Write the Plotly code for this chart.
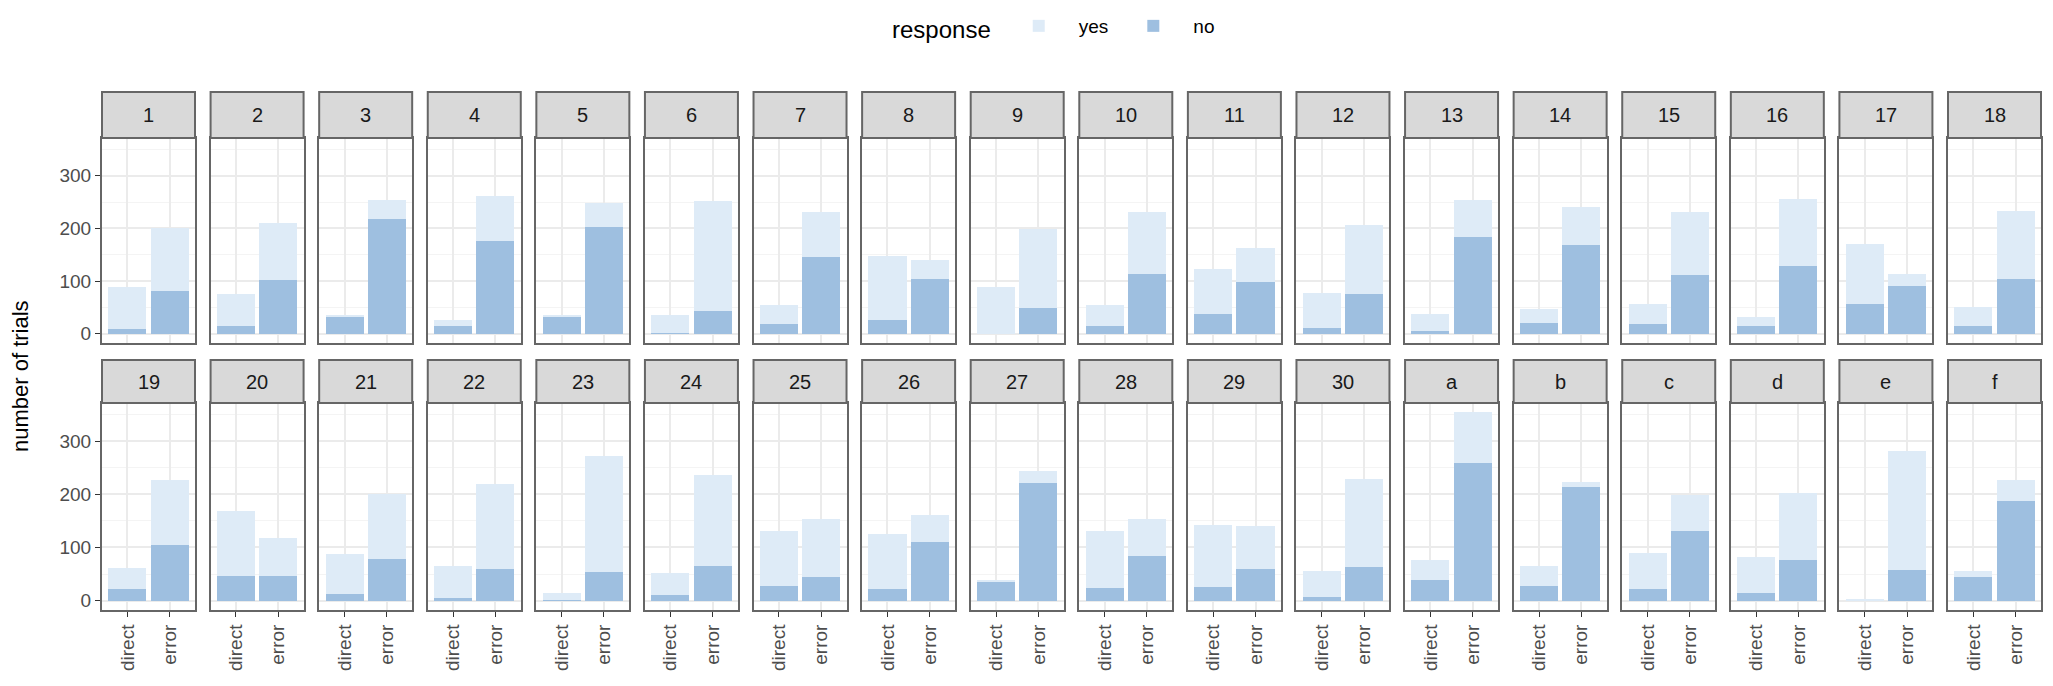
import plotly.graph_objects as go
from plotly.subplots import make_subplots

# facets (subjects) and the two conditions on the x axis
subjects = [str(i) for i in range(1, 31)] + ["a", "b", "c", "d", "e", "f"]
conditions = ["direct", "error"]

# number of trials answered "no" / "yes"
direct_no = [8, 14, 33, 14, 31, 2, 18, 26, 0, 15, 38, 11, 6, 20, 19, 14, 56, 14,
             22, 47, 13, 4, 1, 11, 27, 22, 36, 23, 25, 6, 39, 28, 22, 15, 1, 44]
direct_yes = [81, 61, 3, 12, 4, 33, 36, 121, 89, 39, 84, 67, 32, 27, 37, 17, 114, 37,
              39, 122, 74, 61, 14, 41, 104, 103, 3, 107, 117, 50, 37, 37, 67, 67, 2, 11]
error_no = [81, 102, 218, 177, 202, 43, 145, 104, 49, 113, 98, 75, 184, 168, 111, 129, 91, 103,
            104, 47, 78, 59, 54, 65, 44, 111, 221, 84, 60, 63, 258, 213, 131, 77, 57, 188]
error_yes = [119, 109, 35, 85, 47, 209, 86, 36, 149, 118, 65, 132, 69, 73, 120, 126, 23, 130,
             122, 71, 123, 161, 218, 172, 109, 50, 23, 69, 81, 166, 96, 10, 68, 125, 225, 38]

col_yes = "#deebf7"
col_no = "#9ebfe0"

ncol = 18
# the page body has an 8px margin, so the figure is a bit smaller than the window
OFF = 8
W, H = 2053 - 2 * OFF, 686 - 2 * OFF
ml, mr, mt, mb = 102 - OFF, 4, 92 - OFF, H - (610 - OFF)
pw = W - ml - mr
ph = H - mt - mb


def ypix(v):
    # window pixel row -> paper coordinate
    return (H - mb - (v - OFF)) / ph


fig = make_subplots(rows=2, cols=ncol)

totals = [a + b for a, b in zip(direct_no, direct_yes)] + [a + b for a, b in zip(error_no, error_yes)]
ymax = max(totals)

panel_w = 93 / pw
pitch = (1 - panel_w) / (ncol - 1)
row_dom = {1: [ypix(343), ypix(138)], 2: [0, ypix(403)]}
strip_top = {1: 1.0, 2: ypix(360)}

for k, s in enumerate(subjects):
    r = k // ncol + 1
    c = k % ncol + 1
    first = k == 0
    fig.add_trace(go.Bar(x=conditions, y=[direct_no[k], error_no[k]], name="no",
                         marker_color=col_no, marker_line_width=0, width=0.9,
                         legendgroup="no", legendrank=2, showlegend=first,
                         hovertemplate=s + " %{x}<br>no: %{y}<extra></extra>"),
                  row=r, col=c)
    fig.add_trace(go.Bar(x=conditions, y=[direct_yes[k], error_yes[k]], name="yes",
                         marker_color=col_yes, marker_line_width=0, width=0.9,
                         legendgroup="yes", legendrank=1, showlegend=first,
                         hovertemplate=s + " %{x}<br>yes: %{y}<extra></extra>"),
                  row=r, col=c)

    n = k + 1
    xname = "xaxis" if n == 1 else f"xaxis{n}"
    yname = "yaxis" if n == 1 else f"yaxis{n}"
    x0 = (c - 1) * pitch
    x1 = x0 + panel_w
    fig.layout[xname].update(
        domain=[x0, x1], range=[-0.6, 1.6], type="category", automargin=False,
        showgrid=True, gridcolor="#ebebeb", gridwidth=1.5,
        showline=True, mirror=True, linecolor="#666666", linewidth=2,
        ticks="outside" if r == 2 else "", ticklen=5, tickcolor="#333333",
        showticklabels=(r == 2), tickangle=-90,
        tickfont=dict(size=19, color="#4d4d4d"))
    fig.layout[yname].update(
        domain=row_dom[r], range=[-0.05 * ymax, 1.05 * ymax], automargin=False,
        dtick=100, tick0=0, showgrid=True, gridcolor="#ebebeb", gridwidth=1.5,
        minor=dict(dtick=50, showgrid=True, gridcolor="#f4f4f4", gridwidth=1),
        zeroline=False, showline=True, mirror=True, linecolor="#666666", linewidth=2,
        ticks="outside" if c == 1 else "", ticklen=5, tickcolor="#333333",
        showticklabels=(c == 1), tickfont=dict(size=19, color="#4d4d4d"))

    # facet strip
    fig.add_shape(type="rect", xref="paper", yref="paper",
                  x0=x0, x1=x1, y0=row_dom[r][1], y1=strip_top[r],
                  fillcolor="#d9d9d9", line=dict(color="#666666", width=2))
    fig.add_annotation(text=s, xref="paper", yref="paper", showarrow=False,
                       x=(x0 + x1) / 2, y=(row_dom[r][1] + strip_top[r]) / 2,
                       xanchor="center", yanchor="middle",
                       font=dict(size=20, color="#1a1a1a"))

fig.add_annotation(text="number of trials", xref="paper", yref="paper", showarrow=False,
                   x=(20 - OFF - ml) / pw, xanchor="center", y=ypix(376), yanchor="middle",
                   textangle=-90, font=dict(size=22, color="black"))

fig.update_layout(
    width=W, height=H,
    margin=dict(l=ml, r=mr, t=mt, b=mb, autoexpand=False),
    barmode="stack", bargap=0.1,
    plot_bgcolor="white", paper_bgcolor="white",
    font=dict(family="Liberation Sans, Arial, sans-serif"),
    legend=dict(orientation="h", x=(1055 - OFF - ml) / pw, xanchor="center",
                y=ypix(28), yanchor="middle",
                title=dict(text="response", side="left", font=dict(size=24, color="black")),
                font=dict(size=19, color="black"), itemwidth=70),
)

fig.write_html("out.html")
